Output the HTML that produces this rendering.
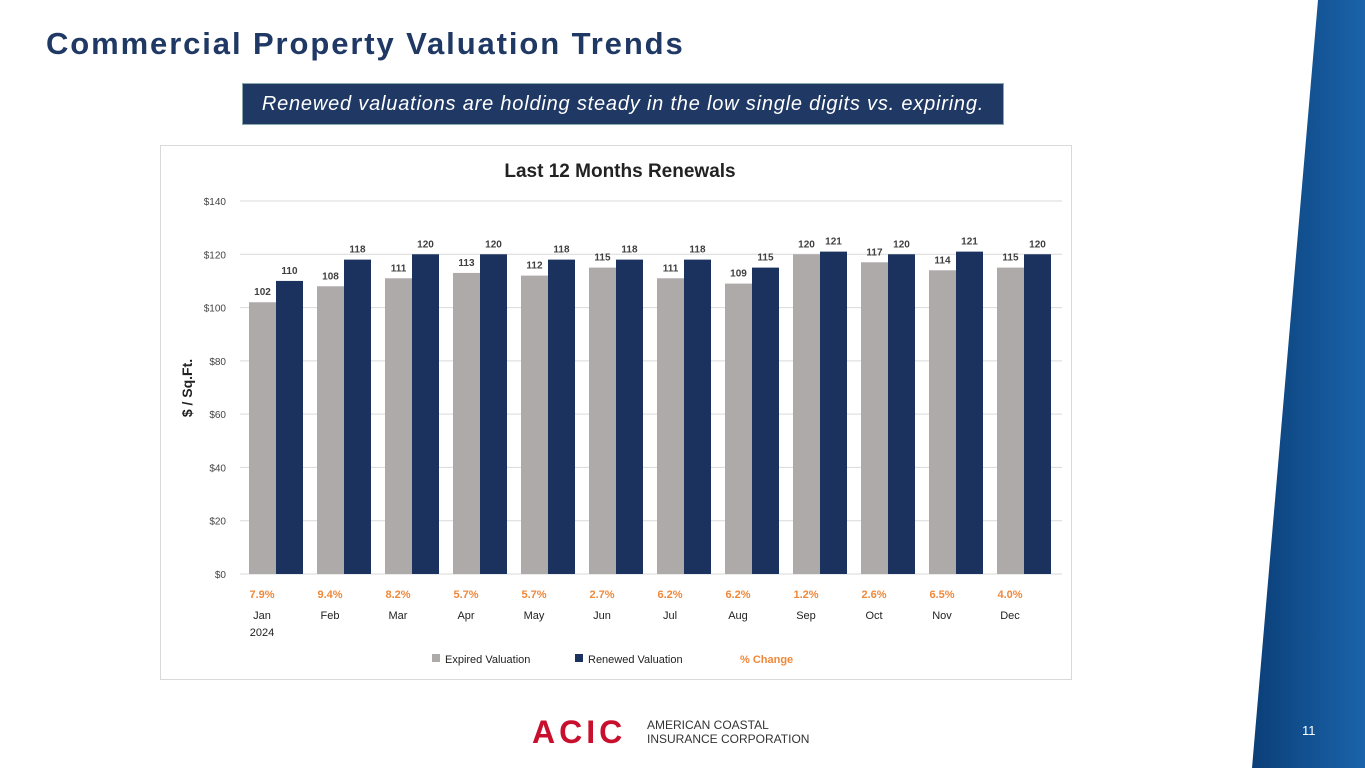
<!DOCTYPE html>
<html><head><meta charset="utf-8"><style>
body{margin:0;width:1365px;height:768px;overflow:hidden;background:#fff;font-family:"Liberation Sans",sans-serif;position:relative}
.abs{position:absolute}
</style></head><body>
<svg class="abs" style="left:0;top:0" width="1365" height="768">
<defs><linearGradient id="g" x1="0" x2="1"><stop offset="0" stop-color="#0b3f78"/><stop offset="1" stop-color="#1a64ab"/></linearGradient></defs>
<polygon points="1318,0 1365,0 1365,768 1252,768" fill="url(#g)"/>
</svg>
<div class="abs" style="left:46px;top:26px;font-size:31px;font-weight:bold;color:#1f3864;letter-spacing:1.9px">Commercial Property Valuation Trends</div>
<div class="abs" style="left:242px;top:83px;width:760px;height:40px;background:#1f3864;border:1px solid #8aa;color:#fff;font-style:italic;font-size:20px;letter-spacing:0.8px;line-height:40px;text-align:center;white-space:nowrap">Renewed valuations are holding steady in the low single digits vs. expiring.</div>
<div class="abs" style="left:160px;top:145px;width:912px;height:535px;border:1px solid #d9d9d9;box-sizing:border-box"></div>
<svg id="c" class="abs" style="left:0;top:0" width="1365" height="768"></svg>
<div class="abs" style="left:532px;top:714px;font-size:32px;font-weight:bold;color:#c8102e;letter-spacing:4px">ACIC</div>
<div class="abs" style="left:647px;top:718px;font-size:12px;line-height:14px;color:#333">AMERICAN COASTAL<br>INSURANCE CORPORATION</div>
<div class="abs" style="left:1302px;top:723px;font-size:13px;color:#fff">11</div>
<script>
const months=["Jan","Feb","Mar","Apr","May","Jun","Jul","Aug","Sep","Oct","Nov","Dec"];
const expired=[102,108,111,113,112,115,111,109,120,117,114,115];
const renewed=[110,118,120,120,118,118,118,115,121,120,121,120];
const pct=["7.9%","9.4%","8.2%","5.7%","5.7%","2.7%","6.2%","6.2%","1.2%","2.6%","6.5%","4.0%"];
const ticks=[0,20,40,60,80,100,120,140];
const svg=document.getElementById('c');const NS="http://www.w3.org/2000/svg";
const y=v=>574-v*(373/140);const xc=i=>276+i*68;
function mk(t,a,txt){const e=document.createElementNS(NS,t);for(const k in a)e.setAttribute(k,a[k]);if(txt!=null)e.textContent=txt;svg.appendChild(e);return e;}
let t=mk('text',{x:620,y:177,'text-anchor':'middle','font-size':19,'font-weight':'bold',fill:'#222'},'Last 12 Months Renewals');


ticks.forEach(v=>{
 let l=mk('line',{x1:240,x2:1062,y1:y(v),y2:y(v),stroke:'#d9d9d9'});
 
 
 let tx=mk('text',{x:226,y:y(v)+4,'text-anchor':'end','font-size':10,fill:'#444'},'$'+v);
 
 
});
let yt=mk('text',{transform:'translate(192,388) rotate(-90)','text-anchor':'middle','font-size':14,'font-weight':'bold',fill:'#222'},'$ / Sq.Ft.');


months.forEach((m,i)=>{
 const c=xc(i);
 let a=mk('rect',{x:c-27,y:y(expired[i]),width:27,height:574-y(expired[i]),fill:'#aeaaaa'});
 
 
 let b=mk('rect',{x:c,y:y(renewed[i]),width:27,height:574-y(renewed[i]),fill:'#1b325e'});
 
 
 let la=mk('text',{x:c-13.5,y:y(expired[i])-7,'text-anchor':'middle','font-size':10,'font-weight':'bold',fill:'#404040'},expired[i]);
 
 
 let lb=mk('text',{x:c+13.5,y:y(renewed[i])-7,'text-anchor':'middle','font-size':10,'font-weight':'bold',fill:'#404040'},renewed[i]);
 
 
 let p=mk('text',{x:c-14,y:598,'text-anchor':'middle','font-size':11,'font-weight':'bold',fill:'#f0883a'},pct[i]);
 
 
 let xl=mk('text',{x:c-14,y:619,'text-anchor':'middle','font-size':11,fill:'#222'},m);
 
 
});
let yr=mk('text',{x:xc(0)-14,y:636,'text-anchor':'middle','font-size':11,fill:'#222'},'2024');


const leg=[[432,'#aeaaaa','Expired Valuation','#222'],[575,'#1b325e','Renewed Valuation','#222'],[null,null,'% Change','#f0883a']];
leg.forEach(([x,col,lab,tc],k)=>{
 if(x!==null){let r=mk('rect',{x:x,y:654,width:8,height:8,fill:col});}
 let tx=mk('text',{x:x!==null?x+13:740,y:663,'font-size':11,fill:tc,'font-weight':x===null?'bold':'normal'},lab);
 
 
});
</script>
</body></html>
